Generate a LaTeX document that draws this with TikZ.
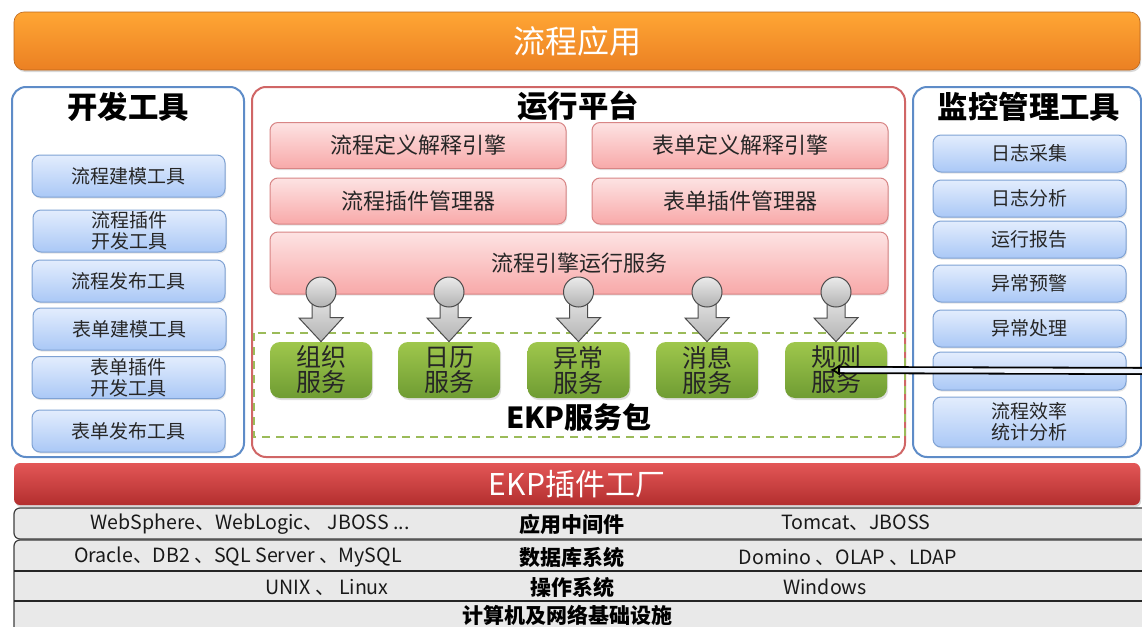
\documentclass[tikz,border=0pt]{standalone}
\usepackage{fontspec}
\setmainfont{Noto Sans CJK SC}
\usepackage{tikz}
\usetikzlibrary{arrows.meta}
\usetikzlibrary{calc}
\usetikzlibrary{positioning,shadows}

\definecolor{orangetop}{HTML}{FFA634}
\definecolor{orangebot}{HTML}{EB8023}
\definecolor{panelblue}{HTML}{5E8CC8}
\definecolor{panelred}{HTML}{D06666}
\definecolor{btnblue}{HTML}{7FA2D4}
\definecolor{btntop}{HTML}{E3EDFD}
\definecolor{btnbot}{HTML}{AAC8F6}
\definecolor{pinktop}{HTML}{FDE3E3}
\definecolor{pinkbot}{HTML}{F8A9A9}
\definecolor{pinkline}{HTML}{D88585}
\definecolor{greentop}{HTML}{9FC74C}
\definecolor{greenbot}{HTML}{6F9C33}
\definecolor{dashgreen}{HTML}{9BBB59}
\definecolor{redtop}{HTML}{E35757}
\definecolor{redbot}{HTML}{B32E2E}
\definecolor{rowgray}{HTML}{E9E9E9}

\tikzset{
  topbar/.style={rounded corners=5pt, top color=orangetop, bottom color=orangebot,
    draw=orangebot!80!black, line width=0.3pt, minimum width=563pt, minimum height=29pt,
    text=white, font=\fontsize{16}{18}\selectfont,
    drop shadow={opacity=0.3, shadow xshift=0.6pt, shadow yshift=-1pt}},
  panel/.style={rounded corners=7pt, line width=1pt, fill=white, minimum height=185pt},
  paneltitle/.style={font=\bfseries\fontsize{15.2}{16}\selectfont},
  bluebtn/.style={draw=btnblue, line width=0.5pt, rounded corners=4pt, top color=btntop,
    bottom color=btnbot, minimum width=96.5pt, minimum height=21pt, align=center,
    inner sep=0pt, text=black!85, font=\fontsize{9.5}{10.5}\selectfont,
    drop shadow={opacity=0.2, shadow xshift=0.5pt, shadow yshift=-0.8pt}},
  pinkbtn/.style={draw=pinkline, line width=0.5pt, rounded corners=4pt, top color=pinktop,
    bottom color=pinkbot, minimum width=148pt, minimum height=23pt, inner sep=0pt,
    text=black!85, font=\fontsize{11}{12}\selectfont,
    drop shadow={opacity=0.2, shadow xshift=0.5pt, shadow yshift=-0.8pt}},
  greenbtn/.style={rounded corners=5pt, top color=greentop, bottom color=greenbot,
    minimum width=51pt, minimum height=28pt, align=center, inner sep=0pt,
    text=black!85, font=\fontsize{12.5}{12.5}\selectfont,
    drop shadow={opacity=0.25, shadow xshift=0.6pt, shadow yshift=-1pt}},
  knob/.style={circle, draw=black!70, line width=0.5pt, top color=black!8,
    bottom color=black!30, minimum size=15pt, inner sep=0pt},
  fatarrow/.style={draw=black!70, line width=0.5pt, top color=black!8, bottom color=black!30},
  redbar/.style={rounded corners=3pt, top color=redtop, bottom color=redbot,
    minimum width=563pt, minimum height=21pt, text=white, font=\fontsize{15}{17}\selectfont,
    drop shadow={opacity=0.3, shadow xshift=0.6pt, shadow yshift=-1pt}},
  rowtext/.style={font=\fontsize{9.8}{11}\selectfont, text=black!90},
  rowhead/.style={font=\bfseries\fontsize{10.5}{12}\selectfont, text=black},
  ptr/.style={line width=0.9pt, double=btntop!60!white, double distance=2.2pt,
    -{Latex[length=5pt,width=6pt,open]}},
}

\begin{document}
\begin{tikzpicture}[x=0.5pt,y=-0.5pt]
  \useasboundingbox[fill=white] (0,0) rectangle (1142,627);

  % top bar
  \draw (577,41) node[topbar] (app) {流程应用};

  % three panels
  \draw (128,272) node[panel, draw=panelblue, minimum width=116pt] (dev) {};
  \draw (578.5,272) node[panel, draw=panelred, minimum width=326.5pt] (run) {};
  \draw (1027,272) node[panel, draw=panelblue, minimum width=114pt] (mon) {};
  \draw (128,107) node[paneltitle] (devtitle) {开发工具};
  \draw (578,106) node[paneltitle] (runtitle) {运行平台};
  \draw (1029,107) node[paneltitle] (montitle) {监控管理工具};

  % development tools
  \draw (128.5,176) node[bluebtn] (d1) {流程建模工具};
  \draw (129.5,231) node[bluebtn] (d2) {流程插件\\开发工具};
  \draw (128.5,281) node[bluebtn] (d3) {流程发布工具};
  \draw (129.5,329) node[bluebtn] (d4) {表单建模工具};
  \draw (128.5,377.5) node[bluebtn] (d5) {表单插件\\开发工具};
  \draw (128.5,431) node[bluebtn] (d6) {表单发布工具};

  % monitoring tools
  \draw (1029.5,153.5) node[bluebtn, minimum height=18.5pt] (m1) {日志采集};
  \draw (1029.5,198.5) node[bluebtn, minimum height=18.5pt] (m2) {日志分析};
  \draw (1029.5,239.5) node[bluebtn, minimum height=18.5pt] (m3) {运行报告};
  \draw (1029.5,283.5) node[bluebtn, minimum height=18.5pt] (m4) {异常预警};
  \draw (1029.5,328.5) node[bluebtn, minimum height=18.5pt] (m5) {异常处理};
  \draw (1029.5,371) node[bluebtn, minimum height=19pt] (m6) {……};
  \draw (1029.5,422) node[bluebtn, minimum height=25pt] (m7) {流程效率\\统计分析};

  % runtime platform
  \draw (418,145.5) node[pinkbtn] (flowdef) {流程定义解释引擎};
  \draw (740,145.5) node[pinkbtn] (formdef) {表单定义解释引擎};
  \draw (418,201) node[pinkbtn] (flowplug) {流程插件管理器};
  \draw (740,201) node[pinkbtn] (formplug) {表单插件管理器};
  \draw (579,263) node[pinkbtn, minimum width=309pt, minimum height=31pt] (engine) {流程引擎运行服务};

  % EKP service package
  \draw[dashgreen, line width=0.8pt, dash pattern=on 4pt off 3pt] (254,333) rectangle (905,437);
  \draw (321,370) node[greenbtn] (g1) {组织\\服务};
  \draw (449,370) node[greenbtn] (g2) {日历\\服务};
  \draw (578.5,370) node[greenbtn] (g3) {异常\\服务};
  \draw (707,370) node[greenbtn] (g4) {消息\\服务};
  \draw (836,370) node[greenbtn] (g5) {规则\\服务};
  \draw (579,417) node[paneltitle, font=\bfseries\fontsize{14.5}{15}\selectfont] (pkg) {EKP服务包};

  % plugs from the engine to the services
  \coordinate (p1) at (321,292);
  \coordinate (p2) at (449,292);
  \coordinate (p3) at (578.5,292);
  \coordinate (p4) at (707,292);
  \coordinate (p5) at (836,292);
  \draw[fatarrow] (p1) ++(-9,0) -- ++(0,26) -- ++(-13,0) -- (g1.north) -- ++(22,-24) -- ++(-13,0) -- ++(0,-26) -- cycle;
  \draw[fatarrow] (p2) ++(-9,0) -- ++(0,26) -- ++(-13,0) -- (g2.north) -- ++(22,-24) -- ++(-13,0) -- ++(0,-26) -- cycle;
  \draw[fatarrow] (p3) ++(-9,0) -- ++(0,26) -- ++(-13,0) -- (g3.north) -- ++(22,-24) -- ++(-13,0) -- ++(0,-26) -- cycle;
  \draw[fatarrow] (p4) ++(-9,0) -- ++(0,26) -- ++(-13,0) -- (g4.north) -- ++(22,-24) -- ++(-13,0) -- ++(0,-26) -- cycle;
  \draw[fatarrow] (p5) ++(-9,0) -- ++(0,26) -- ++(-13,0) -- (g5.north) -- ++(22,-24) -- ++(-13,0) -- ++(0,-26) -- cycle;
  \draw (p1) node[knob] (k1) {};
  \draw (p2) node[knob] (k2) {};
  \draw (p3) node[knob] (k3) {};
  \draw (p4) node[knob] (k4) {};
  \draw (p5) node[knob] (k5) {};

  % plugin factory and base layers
  \draw (577,484) node[redbar] (factory) {EKP插件工厂};
  \draw[fill=rowgray, draw=black!75, line width=0.6pt, rounded corners=3pt] (14,508) rectangle (1160,539);
  \draw[fill=rowgray, draw=black!75, line width=0.6pt, rounded corners=3pt] (14,540) rectangle (1160,650);
  \draw[black!85, line width=0.6pt] (14,571) -- (1160,571);
  \draw[black!85, line width=0.6pt] (14,601) -- (1160,601);

  \draw (250,524) node[rowtext] (mw1) {WebSphere、WebLogic、 JBOSS ...};
  \draw (572,524) node[rowhead] (mw) {应用中间件};
  \draw (856,523) node[rowtext] (mw2) {Tomcat、JBOSS};
  \draw (238,557) node[rowtext] (db1) {Oracle、DB2 、SQL Server 、MySQL};
  \draw (572,557) node[rowhead] (db) {数据库系统};
  \draw (848,557) node[rowtext] (db2) {Domino 、OLAP 、LDAP};
  \draw (327,587) node[rowtext] (os1) {UNIX 、 Linux};
  \draw (572,587) node[rowhead] (os) {操作系统};
  \draw (825,587) node[rowtext] (os2) {Windows};
  \draw (567,615) node[rowhead] (infra) {计算机及网络基础设施};

  % pointer to the rule service
  \coordinate (edge) at (1150,371);
  \draw[ptr] (edge) -- ([xshift=-3pt]g5.center);
\end{tikzpicture}
\end{document}
